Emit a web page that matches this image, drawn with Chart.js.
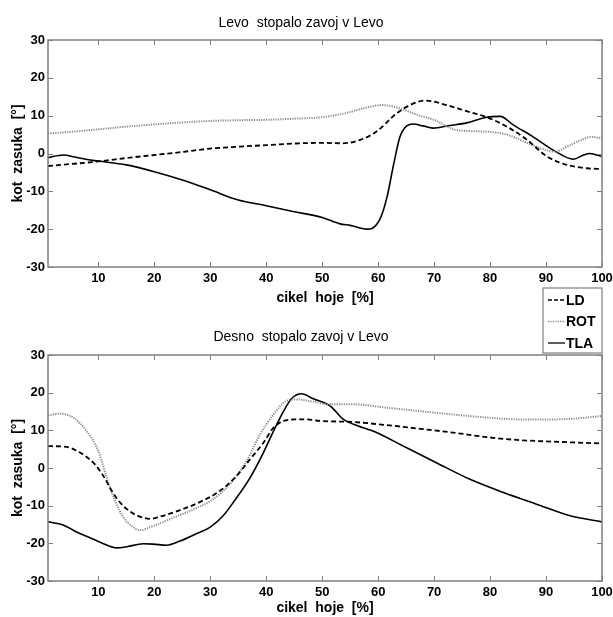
<!DOCTYPE html>
<html>
<head>
<meta charset="utf-8">
<script src="https://cdn.jsdelivr.net/npm/chart.js@4.4.1/dist/chart.umd.min.js"></script>
<style>
  body { margin: 0; background: #fff; }
  #wrap { position: relative; width: 613px; height: 617px; overflow: hidden; }
  canvas { position: absolute; left: 0; }
  #top { top: 0; }
  #bottom { top: 310px; }
</style>
</head>
<body>
<div id="wrap">
  <canvas id="top" width="613" height="356"></canvas>
  <canvas id="bottom" width="613" height="307"></canvas>
</div>
<script>
// tick labels
const xTicks = [10, 20, 30, 40, 50, 60, 70, 80, 90, 100];
const seriesNames = ['LD', 'ROT', 'TLA'];

// top: Levo stopalo
const topLdX = [1, 5, 10, 15, 20, 25, 30, 35, 40, 46, 50, 53.7, 56.8, 59.7, 63.3, 65.7, 68.4, 72.2, 75.8, 79.4, 83, 86.6, 90.2, 93.7, 97.3, 100];
const topLdY = [-3.3, -2.8, -2.1, -1.2, -0.4, 0.4, 1.3, 1.8, 2.2, 2.7, 2.8, 2.7, 3.6, 5.8, 10.6, 12.8, 14.0, 12.8, 11.2, 9.6, 7.1, 3.6, -0.8, -3.0, -3.9, -4.1];
const topRotX = [1, 5, 10, 15, 20, 25, 30, 35, 40, 45, 50, 54, 57, 60.7, 64, 67, 70, 74, 79, 83, 86.6, 90, 91.6, 94, 96, 98, 100];
const topRotY = [5.3, 5.7, 6.4, 7.1, 7.7, 8.2, 8.6, 8.8, 8.9, 9.2, 9.6, 10.6, 11.8, 12.8, 11.9, 10.2, 8.9, 6.2, 5.8, 5.0, 2.8, 0.9, 0.5, 2.0, 3.4, 4.4, 4.0];
const topTlaX = [1, 3.7, 6, 8, 10, 15, 20, 25, 30, 35, 40, 45, 50, 53.2, 55, 58, 58.9, 60.4, 61.6, 62.8, 63.9, 65.1, 66.3, 68, 69.8, 72.8, 75.8, 79.4, 81.8, 84.2, 87.7, 91.3, 94.9, 96.7, 97.8, 100];
const topTlaY = [-1.1, -0.4, -1.0, -1.6, -2.0, -3.0, -4.8, -7.0, -9.6, -12.3, -13.8, -15.4, -16.9, -18.6, -19.0, -20.0, -19.8, -17.1, -11.4, -2.6, 4.4, 7.3, 7.8, 7.3, 6.7, 7.4, 8.1, 9.6, 9.8, 7.5, 4.4, 0.9, -1.5, -0.4, 0.0, -0.8];

// bottom: Desno stopalo
const botLdX = [1, 4.3, 6.7, 9.1, 10.9, 12.4, 13.9, 15.7, 17.4, 19.2, 21, 24.6, 28.2, 31.7, 34.7, 37.1, 39.5, 41.3, 43.1, 45.4, 47.2, 49.6, 55.6, 61.5, 67.5, 73.4, 79.4, 85.3, 91.3, 100];
const botLdY = [5.8, 5.6, 4.1, 1.4, -2.1, -6.1, -9.2, -11.6, -12.9, -13.5, -12.9, -11.2, -9.0, -6.1, -2.1, 2.3, 6.7, 10.7, 12.5, 12.9, 12.9, 12.5, 12.2, 11.4, 10.4, 9.4, 8.2, 7.4, 7.0, 6.5];
const botRotX = [1, 3.1, 5.5, 7.9, 10, 11.5, 13, 14.5, 16.3, 17.4, 19.8, 23.4, 27, 30.5, 33.5, 36.5, 38.9, 41.3, 43.6, 45.4, 48.4, 51.4, 55.6, 61.5, 67.5, 73.4, 79.4, 85.3, 91.3, 94.9, 100];
const botRotY = [14.0, 14.4, 13.4, 9.8, 4.5, -2.6, -8.8, -13.2, -15.8, -16.5, -15.4, -13.2, -11.0, -8.3, -4.3, 1.9, 8.9, 14.2, 17.8, 18.2, 17.6, 16.9, 16.9, 16.0, 15.1, 14.2, 13.4, 12.9, 12.9, 13.1, 13.8];
const botTlaX = [1, 3.7, 6.1, 8.5, 10.9, 13.3, 15.1, 18, 19.8, 22.2, 24.6, 27.6, 30, 32.3, 34.7, 37.1, 39.5, 41.3, 43.1, 44.5, 46.3, 48.4, 51.4, 53.8, 55.6, 59.7, 64.5, 70.4, 76.4, 82.4, 88.3, 94.3, 100];
const botTlaY = [-14.3, -15.1, -17.0, -18.5, -20.1, -21.2, -20.9, -20.1, -20.2, -20.5, -19.4, -17.4, -15.7, -12.7, -7.9, -2.6, 4.1, 9.8, 15.1, 18.4, 19.7, 18.4, 16.5, 12.9, 11.6, 9.4, 5.8, 1.4, -3.0, -6.5, -9.6, -12.7, -14.3];

const narrow = '"Liberation Sans Narrow", "Arial Narrow", "Liberation Sans", sans-serif';
const frameColor = '#7f7f7f';

function pts(xs, ys) {
    return xs.map((x, i) => ({ x: x, y: ys[i] }));
}

function makeDatasets(ld, rot, tla) {
    return [
        { label: seriesNames[0], data: ld, borderColor: '#000', borderWidth: 1.8, borderDash: [5, 3] },
        { label: seriesNames[1], data: rot, borderColor: '#8a8a8a', borderWidth: 2, borderDash: [1.2, 1.2] },
        { label: seriesNames[2], data: tla, borderColor: '#000', borderWidth: 1.6 }
    ];
}

// box round the plot with inward tick marks, as in the original figure
const framePlugin = {
    id: 'frame',
    afterDraw(chart) {
        const { ctx, chartArea: a, scales } = chart;
        ctx.save();
        ctx.strokeStyle = frameColor;
        ctx.lineWidth = 1.5;
        ctx.strokeRect(a.left, a.top, a.right - a.left, a.bottom - a.top);
        ctx.lineWidth = 1;
        ctx.beginPath();
        scales.x.ticks.forEach(t => {
            const px = Math.round(scales.x.getPixelForValue(t.value)) + 0.5;
            ctx.moveTo(px, a.top); ctx.lineTo(px, a.top + 5);
            ctx.moveTo(px, a.bottom); ctx.lineTo(px, a.bottom - 5);
        });
        scales.y.ticks.forEach(t => {
            const py = Math.round(scales.y.getPixelForValue(t.value)) + 0.5;
            ctx.moveTo(a.left, py); ctx.lineTo(a.left + 5, py);
            ctx.moveTo(a.right, py); ctx.lineTo(a.right - 5, py);
        });
        ctx.stroke();
        ctx.restore();
    }
};

// legend box under the top plot, bottom right
const legendPlugin = {
    id: 'boxLegend',
    afterDraw(chart) {
        const { ctx, chartArea: a } = chart;
        const left = a.right - 59, top = a.bottom + 21, h = 65;
        ctx.save();
        ctx.strokeStyle = frameColor;
        ctx.lineWidth = 1.2;
        ctx.strokeRect(left, top, a.right - left, h);
        ctx.font = 'bold 14px ' + narrow;
        ctx.fillStyle = '#000';
        ctx.textBaseline = 'middle';
        chart.data.datasets.forEach((ds, i) => {
            const y = top + 12 + i * 21.5;
            ctx.strokeStyle = ds.borderColor;
            ctx.lineWidth = ds.borderWidth * 0.8;
            ctx.setLineDash(ds.borderDash ? (i === 0 ? [4, 2] : ds.borderDash) : []);
            ctx.beginPath();
            ctx.moveTo(left + 5, y);
            ctx.lineTo(left + 22, y);
            ctx.stroke();
            ctx.setLineDash([]);
            ctx.fillText(ds.label, left + 23, y + 1);
        });
        ctx.restore();
    }
};

function makeChart(id, titleText, datasets, cfg) {
    const tickFont = { family: narrow, size: 13, weight: 'bold' };
    return new Chart(document.getElementById(id), {
        type: 'line',
        data: { datasets: datasets },
        options: {
            responsive: false,
            animation: false,
            layout: { padding: { left: 0, right: 11, top: 0, bottom: cfg.padBottom } },
            elements: { point: { radius: 0 }, line: { cubicInterpolationMode: 'monotone' } },
            plugins: {
                legend: { display: false },
                tooltip: { enabled: false },
                title: {
                    display: true,
                    text: titleText,
                    color: '#000',
                    font: { family: narrow, size: 14, weight: 'normal', lineHeight: 1.2 },
                    padding: { top: cfg.titleTop, bottom: cfg.titleBottom }
                }
            },
            scales: {
                x: {
                    type: 'linear',
                    min: 1,
                    max: 100,
                    afterBuildTicks: axis => { axis.ticks = xTicks.map(v => ({ value: v })); },
                    afterFit: axis => {
                        axis.height = cfg.xHeight;
                        axis.paddingLeft = 0;
                        axis.paddingRight = 0;
                    },
                    grid: { display: false, drawTicks: false },
                    border: { display: false },
                    ticks: { color: '#000', font: tickFont, padding: 4, maxRotation: 0, autoSkip: false },
                    title: {
                        display: true,
                        text: 'cikel  hoje  [%]',
                        color: '#000',
                        font: { family: narrow, size: 14, weight: 'bold', lineHeight: 1.2 },
                        padding: { top: 0, bottom: cfg.xTitlePad }
                    }
                },
                y: {
                    min: -30,
                    max: 30,
                    afterFit: axis => { axis.width = 48; },
                    grid: { display: false, drawTicks: false },
                    border: { display: false },
                    ticks: { stepSize: 10, color: '#000', font: tickFont, padding: 3 },
                    title: {
                        display: true,
                        text: 'kot  zasuka  [°]',
                        color: '#000',
                        font: { family: '"Liberation Sans", Arial, sans-serif', size: 14, weight: 'bold', lineHeight: 1.2 },
                        padding: { top: 9.6, bottom: 0 }
                    }
                }
            }
        },
        plugins: cfg.legend ? [framePlugin, legendPlugin] : [framePlugin]
    });
}

makeChart('top', 'Levo  stopalo zavoj v Levo',
    makeDatasets(pts(topLdX, topLdY), pts(topRotX, topRotY), pts(topTlaX, topTlaY)),
    { padBottom: 49, titleTop: 14.3, titleBottom: 8.9, xHeight: 40, xTitlePad: 0.6, legend: true });

makeChart('bottom', 'Desno  stopalo zavoj v Levo',
    makeDatasets(pts(botLdX, botLdY), pts(botRotX, botRotY), pts(botTlaX, botTlaY)),
    { padBottom: 0, titleTop: 18.6, titleBottom: 9.6, xHeight: 36, xTitlePad: 0, legend: false });
</script>
</body>
</html>
